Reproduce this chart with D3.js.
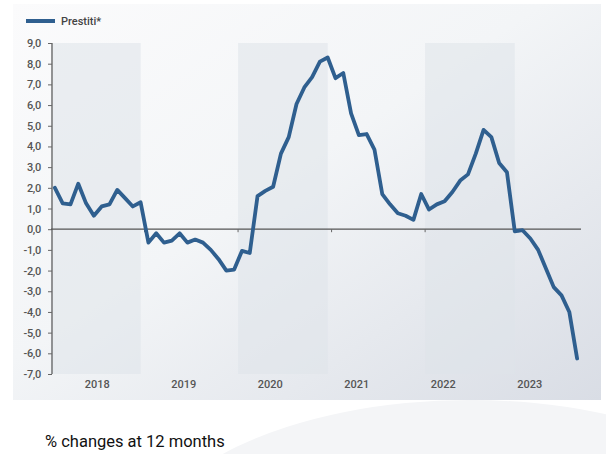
<!DOCTYPE html>
<html><head><meta charset="utf-8">
<script src="https://cdn.jsdelivr.net/npm/d3@7"></script>
<style>html,body{margin:0;padding:0;background:#fff;}svg{display:block;}</style>
</head><body>
<script>
const years = ["2018","2019","2020","2021","2022","2023"];
const shadedYears = ["2018","2020","2022"];
const values2018 = [2.0, 1.25, 1.2, 2.2, 1.25, 0.65, 1.1, 1.2, 1.9, 1.5, 1.1, 1.3];
const values2019 = [-0.65, -0.2, -0.65, -0.55, -0.2, -0.65, -0.5, -0.65, -1.0, -1.45, -2.0, -1.95];
const values2020 = [-1.05, -1.15, 1.6, 1.85, 2.05, 3.65, 4.45, 6.05, 6.85, 7.35, 8.1, 8.3];
const values2021 = [7.3, 7.55, 5.6, 4.55, 4.6, 3.85, 1.7, 1.2, 0.77, 0.65, 0.45, 1.7];
const values2022 = [0.95, 1.2, 1.35, 1.8, 2.35, 2.65, 3.65, 4.8, 4.45, 3.2, 2.75, -0.1];
const values2023 = [-0.05, -0.45, -1.0, -1.9, -2.8, -3.2, -4.0, -6.25];
const yTicks = [9,8,7,6,5,4,3,2,1,0,-1,-2,-3,-4,-5,-6,-7];
const seriesName = "Prestiti*";
const caption = "% changes at 12 months";

const series = [].concat(values2018, values2019, values2020, values2021, values2022, values2023);
const nSlots = 68;

const W = 606, H = 454;
const svg = d3.select("body").append("svg").attr("width", W).attr("height", H);
const defs = svg.append("defs");
const g1 = defs.append("linearGradient").attr("id","bg").attr("x1","0").attr("y1","0").attr("x2","1").attr("y2","1");
g1.append("stop").attr("offset","0").attr("stop-color","#fbfbfc");
g1.append("stop").attr("offset","0.45").attr("stop-color","#f3f5f7");
g1.append("stop").attr("offset","1").attr("stop-color","#d9dde5");

svg.append("rect").attr("x",0).attr("y",0).attr("width",W).attr("height",H).attr("fill","#ffffff");
svg.append("ellipse").attr("cx",470).attr("cy",560).attr("rx",330).attr("ry",160).attr("fill","#f4f5f7");
svg.append("rect").attr("x",13).attr("y",4).attr("width",588).attr("height",396).attr("fill","url(#bg)");

const x = d3.scaleLinear().domain([0, nSlots]).range([51, 581]);
const y = d3.scaleLinear().domain([-7, 9]).range([374, 43]);
const labelX = d3.scaleBand().domain(years).range([54, 573]);

svg.append("g").selectAll("rect").data(shadedYears).join("rect")
  .attr("x", d => x(years.indexOf(d) * 12))
  .attr("width", d => x(11.5) - x(0))
  .attr("y", y(9)).attr("height", y(-7) - y(9))
  .attr("fill", "#dfe3ea").attr("opacity", 0.55);

const yAxis = d3.axisLeft(y).tickValues(yTicks).tickSize(4).tickPadding(7)
  .tickFormat(d => d3.format(".1f")(d).replace(".", ",").replace("−","-"));
const ya = svg.append("g").attr("transform", `translate(${x(0)+1},0)`).call(yAxis);
ya.select(".domain").attr("stroke","#555").attr("stroke-width",1.2).attr("d", `M0,${y(9)}V${y(-7)}`);
ya.selectAll(".tick line").attr("stroke","#666");
ya.selectAll(".tick text").attr("fill","#555").attr("font-family","Roboto, 'Liberation Sans', sans-serif")
  .attr("font-size", 11).attr("font-weight", 500).attr("letter-spacing", -0.3);

const zx = svg.append("g");
zx.append("line").attr("x1", x(0)).attr("x2", x(nSlots)).attr("y1", y(0)).attr("y2", y(0))
  .attr("stroke", "#555").attr("stroke-width", 1.2);
zx.selectAll("line.t").data(d3.range(1, years.length)).join("line").attr("class","t")
  .attr("x1", d => x(d*12)).attr("x2", d => x(d*12))
  .attr("y1", y(0)).attr("y2", y(0) + 3).attr("stroke", "#666");

svg.append("g").selectAll("text").data(years).join("text")
  .attr("x", d => labelX(d) + labelX.bandwidth()/2).attr("y", 388)
  .attr("text-anchor","middle").attr("fill","#555")
  .attr("font-family","Roboto, 'Liberation Sans', sans-serif").attr("font-size", 11).attr("font-weight", 500)
  .text(d => d);

const line = d3.line().x((d,i) => x(i + 0.5)).y(d => y(d)).curve(d3.curveLinear);
svg.append("path").datum(series).attr("d", line).attr("fill","none")
  .attr("stroke","#2f5f8f").attr("stroke-width",3.8).attr("stroke-linejoin","round").attr("stroke-linecap","round");

svg.append("line").attr("x1",26).attr("x2",55).attr("y1",21).attr("y2",21)
  .attr("stroke","#2f5f8f").attr("stroke-width",4);
svg.append("text").attr("x",61).attr("y",25).text(seriesName).attr("fill","#444")
  .attr("font-family","Roboto, 'Liberation Sans', sans-serif").attr("font-size",11).attr("font-weight",500);

svg.append("text").attr("x",45).attr("y",447).text(caption).attr("fill","#111")
  .attr("font-family","Roboto, 'Liberation Sans', sans-serif").attr("font-size",16.5);
</script>
</body></html>
